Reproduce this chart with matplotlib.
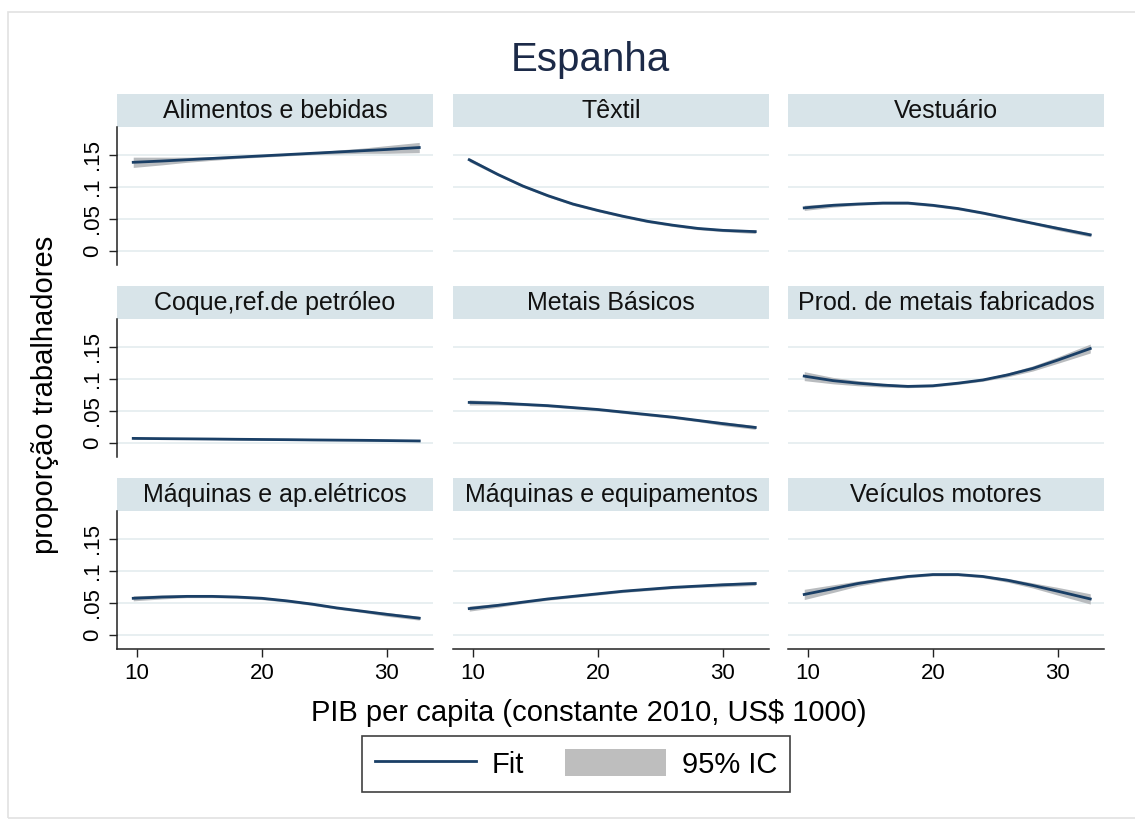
# =====================================================
# ESPANHA - PROPORCAO DE TRABALHADORES POR SETOR
# =====================================================

import numpy as np
import matplotlib.pyplot as plt
from matplotlib.patches import Rectangle, Patch
from matplotlib.lines import Line2D

plt.rcParams["font.family"] = ["Liberation Sans", "DejaVu Sans"]

# =====================================================
# DATA
# =====================================================

pib = [9.7, 12, 14, 16, 18, 20, 22, 24, 26, 28, 30, 32.6]

setores = [
    "Alimentos e bebidas",
    "Têxtil",
    "Vestuário",
    "Coque,ref.de petróleo",
    "Metais Básicos",
    "Prod. de metais fabricados",
    "Máquinas e ap.elétricos",
    "Máquinas e equipamentos",
    "Veículos motores",
]

alimentos = [0.138, 0.140, 0.142, 0.144, 0.146, 0.148, 0.150, 0.152, 0.154, 0.156, 0.158, 0.161]
textil = [0.142, 0.119, 0.101, 0.086, 0.073, 0.063, 0.054, 0.046, 0.040, 0.035, 0.032, 0.030]
vestuario = [0.067, 0.071, 0.073, 0.0745, 0.0745, 0.071, 0.066, 0.059, 0.051, 0.043, 0.035, 0.025]
coque = [0.007, 0.0066, 0.0063, 0.006, 0.0056, 0.0053, 0.005, 0.0046, 0.0043, 0.004, 0.0036, 0.003]
metais_basicos = [0.063, 0.062, 0.060, 0.058, 0.055, 0.052, 0.048, 0.044, 0.040, 0.035, 0.030, 0.024]
prod_metais = [0.104, 0.097, 0.093, 0.090, 0.088, 0.089, 0.093, 0.098, 0.106, 0.116, 0.129, 0.147]
maq_eletricos = [0.057, 0.059, 0.060, 0.060, 0.059, 0.057, 0.053, 0.048, 0.042, 0.037, 0.032, 0.026]
maq_equip = [0.041, 0.046, 0.051, 0.056, 0.060, 0.064, 0.068, 0.071, 0.074, 0.076, 0.078, 0.080]
veiculos = [0.063, 0.072, 0.080, 0.086, 0.091, 0.094, 0.094, 0.091, 0.085, 0.077, 0.068, 0.056]

# meia largura do intervalo de confianca 95%
alimentos_ic = [0.008, 0.006, 0.004, 0.003, 0.002, 0.002, 0.002, 0.002, 0.003, 0.004, 0.006, 0.008]
textil_ic = [0.003, 0.002, 0.002, 0.002, 0.002, 0.002, 0.002, 0.002, 0.002, 0.002, 0.002, 0.003]
vestuario_ic = [0.004, 0.003, 0.002, 0.002, 0.002, 0.002, 0.002, 0.002, 0.002, 0.002, 0.003, 0.003]
coque_ic = [0.001, 0.001, 0.001, 0.001, 0.001, 0.001, 0.001, 0.001, 0.001, 0.001, 0.001, 0.001]
metais_basicos_ic = [0.004, 0.003, 0.002, 0.002, 0.002, 0.002, 0.002, 0.002, 0.002, 0.002, 0.003, 0.003]
prod_metais_ic = [0.007, 0.005, 0.004, 0.003, 0.002, 0.002, 0.002, 0.002, 0.003, 0.004, 0.005, 0.007]
maq_eletricos_ic = [0.004, 0.003, 0.002, 0.002, 0.002, 0.002, 0.002, 0.002, 0.002, 0.002, 0.003, 0.003]
maq_equip_ic = [0.004, 0.003, 0.002, 0.002, 0.002, 0.002, 0.002, 0.002, 0.002, 0.002, 0.003, 0.003]
veiculos_ic = [0.008, 0.006, 0.004, 0.003, 0.002, 0.002, 0.002, 0.002, 0.003, 0.004, 0.006, 0.008]

fits = [alimentos, textil, vestuario, coque, metais_basicos,
        prod_metais, maq_eletricos, maq_equip, veiculos]
ics = [alimentos_ic, textil_ic, vestuario_ic, coque_ic, metais_basicos_ic,
       prod_metais_ic, maq_eletricos_ic, maq_equip_ic, veiculos_ic]

y_ticks = [0, 0.05, 0.1, 0.15]
y_tick_labels = ["0", ".05", ".1", ".15"]
x_ticks = [10, 20, 30]

# =====================================================
# STYLE
# =====================================================

W, H = 1135, 823
NAVY = "#1a3f66"
BAND = "#b9bcbf"
STRIP = "#d8e4e9"
GRID = "#e6eef0"

col_left = [117, 453, 788]
row_top = [127, 319, 511]
ax_w, ax_h = 316, 138
strip_h = 33


def box(left, top, w, h):
    return [left / W, 1 - (top + h) / H, w / W, h / H]


fig = plt.figure(figsize=(W / 100, H / 100), dpi=100)

# moldura clara da figura
fig.patches.append(Rectangle((8 / W, 5 / H), 1.0, 1 - 17 / H,
                             transform=fig.transFigure, fill=False,
                             edgecolor="#e2e2e2", lw=1.2))

# =====================================================
# PANELS
# =====================================================

for i, nome in enumerate(setores):
    r, c = divmod(i, 3)

    sax = fig.add_axes(box(col_left[c], row_top[r] - strip_h, ax_w, strip_h))
    sax.set_facecolor(STRIP)
    sax.set_xticks([])
    sax.set_yticks([])
    for s in sax.spines.values():
        s.set_visible(False)
    sax.text(0.5, 0.47, nome, ha="center", va="center", fontsize=18,
             color="#111111", transform=sax.transAxes)

    ax = fig.add_axes(box(col_left[c], row_top[r], ax_w, ax_h))
    fit = np.array(fits[i])
    ic = np.array(ics[i])

    ax.fill_between(pib, fit - ic, fit + ic, color=BAND, lw=0, zorder=2)
    ax.plot(pib, fit, color=NAVY, lw=2.0, zorder=3)

    ax.set_xlim(8.4, 33.7)
    ax.set_ylim(-0.022, 0.193)
    ax.set_yticks(y_ticks)
    ax.set_xticks(x_ticks)
    ax.yaxis.grid(True, color=GRID, lw=1.3, zorder=0)
    ax.set_axisbelow(True)

    for s in ["top", "right"]:
        ax.spines[s].set_visible(False)

    if c == 0:
        ax.spines["left"].set_color("#222222")
        ax.spines["left"].set_linewidth(1.1)
        ax.set_yticklabels(y_tick_labels, rotation=90, va="center", fontsize=16)
        ax.tick_params(axis="y", length=6, width=1.0, color="#222222", pad=4)
    else:
        ax.spines["left"].set_visible(False)
        ax.tick_params(axis="y", length=0, labelleft=False)

    if r == 2:
        ax.spines["bottom"].set_color("#222222")
        ax.spines["bottom"].set_linewidth(1.1)
        ax.set_xticklabels([str(t) for t in x_ticks], fontsize=16)
        ax.tick_params(axis="x", length=6, width=1.0, color="#222222", pad=4)
    else:
        ax.spines["bottom"].set_visible(False)
        ax.tick_params(axis="x", length=0, labelbottom=False)

# =====================================================
# TITLES AND LEGEND
# =====================================================

fig.text(590 / W, 1 - 60 / H, "Espanha", ha="center", va="center",
         fontsize=29, color="#1c2a48")

fig.text(45 / W, 1 - 395 / H, "proporção trabalhadores", rotation=90,
         ha="center", va="center", fontsize=21)

fig.text(589 / W, 1 - 713 / H, "PIB per capita (constante 2010, US$ 1000)",
         ha="center", va="center", fontsize=21)

handles = [
    Line2D([], [], color=NAVY, lw=2.0),
    Patch(facecolor="#bebebe", edgecolor="none"),
]

leg = fig.legend(
    handles,
    ["Fit", "95% IC"],
    loc="center",
    bbox_to_anchor=(576 / W, 1 - 764 / H),
    ncol=2,
    fontsize=21,
    frameon=True,
    fancybox=False,
    edgecolor="#111111",
    handlelength=3.45,
    handleheight=1.0,
    handletextpad=0.55,
    columnspacing=1.4,
    borderpad=0.45,
)
leg.get_frame().set_linewidth(1.2)

plt.savefig("out.png", dpi=100)
